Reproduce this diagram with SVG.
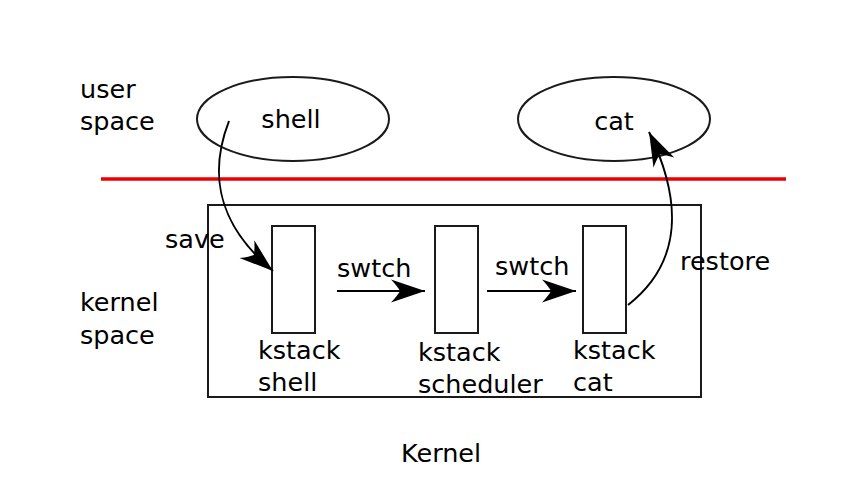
<svg xmlns="http://www.w3.org/2000/svg" width="846" height="486" viewBox="0 0 846 486">
<style>
text{font-family:"DejaVu Sans","Liberation Sans",sans-serif;font-size:25.5px;fill:#000}
.mid{text-anchor:middle}
.shape{fill:#fff;stroke:#1a1a1a;stroke-width:2}
.conn{fill:none;stroke:#000;stroke-width:2}
</style>
<defs>
<marker id="ah" markerUnits="userSpaceOnUse" markerWidth="50" markerHeight="30" refX="0" refY="0" orient="auto" overflow="visible">
<path d="M0,0 L-34,-11.5 Q-27,-4 -25,0 Q-27,4 -34,11.5 Z" fill="#000"/>
</marker>
</defs>
<rect width="846" height="486" fill="#fff"/>
<g id="labels">
<text x="80" y="98">user</text>
<text x="80" y="130">space</text>
<text x="80" y="311">kernel</text>
<text x="80" y="344">space</text>
<text x="401" y="462">Kernel</text>
</g>
<line id="boundary" x1="101" y1="179" x2="786" y2="179" stroke="#e00" stroke-width="3.5"/>
<g id="kernel"><rect x="208" y="205" width="493" height="192" fill="none" stroke="#1a1a1a" stroke-width="2"/></g>
<g id="shell"><ellipse class="shape" cx="293" cy="119" rx="96" ry="42"/><text class="mid" x="291" y="128">shell</text></g>
<g id="cat"><ellipse class="shape" cx="614" cy="119" rx="96" ry="42"/><text class="mid" x="614" y="130">cat</text></g>
<g id="kstack-shell"><rect class="shape" x="272" y="226" width="43" height="107"/><text x="258" y="359">kstack</text><text x="258" y="391">shell</text></g>
<g id="kstack-scheduler"><rect class="shape" x="435" y="226" width="43" height="107"/><text x="418" y="361">kstack</text><text x="418" y="393">scheduler</text></g>
<g id="kstack-cat"><rect class="shape" x="583" y="226" width="43" height="107"/><text x="573" y="359">kstack</text><text x="573" y="391">cat</text></g>
<g id="connectors">
<path class="conn" d="M229,121 C208,175 218,225 273,271" marker-end="url(#ah)"/>
<path class="conn" d="M337,291 L425,291" marker-end="url(#ah)"/>
<path class="conn" d="M487,291 L576,291" marker-end="url(#ah)"/>
<path class="conn" d="M628,305 C683,262 682,200 649,132" marker-end="url(#ah)"/>
<text x="165" y="248">save</text>
<text x="337" y="277">swtch</text>
<text x="495" y="275">swtch</text>
<text x="680" y="270">restore</text>
</g>
</svg>
